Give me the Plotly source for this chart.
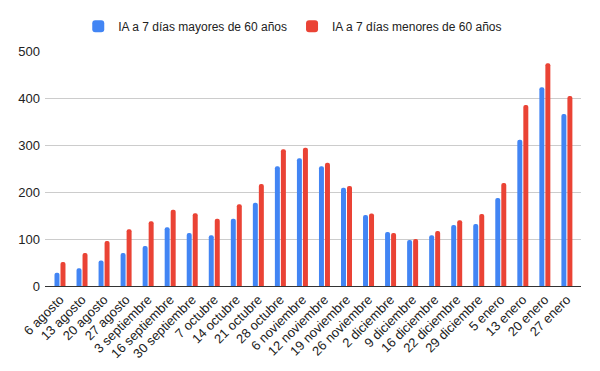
import plotly.graph_objects as go

categories = ["6 agosto", "13 agosto", "20 agosto", "27 agosto", "3 septiembre",
              "16 septiembre", "30 septiembre", "7 octubre", "14 octubre", "21 octubre",
              "28 octubre", "6 noviembre", "12 noviembre", "19 noviembre", "26 noviembre",
              "2 diciembre", "9 diciembre", "16 diciembre", "22 diciembre", "29 diciembre",
              "5 enero", "13 enero", "20 enero", "27 enero"]
mayores = [28, 38, 54, 70, 85, 125, 113, 108, 143, 177, 255, 272,
           255, 209, 151, 115, 98, 108, 130, 132, 187, 311, 423, 366]
menores = [51, 70, 96, 121, 138, 162, 155, 143, 174, 217, 291, 294,
           262, 213, 154, 113, 100, 117, 140, 153, 219, 385, 474, 404]
yticks = [0, 100, 200, 300, 400, 500]

fig = go.Figure()
fig.add_trace(go.Bar(x=categories, y=mayores, name="IA a 7 días mayores de 60 años",
                     marker=dict(color="#4285F4", cornerradius=3, line=dict(width=0))))
fig.add_trace(go.Bar(x=categories, y=menores, name="IA a 7 días menores de 60 años",
                     marker=dict(color="#EA4335", cornerradius=3, line=dict(width=0))))

# page body has an 8px margin: figure is drawn at (8, 8)
fig.update_layout(
    width=592, height=363,
    margin=dict(l=37, r=19, t=43, b=85, autoexpand=False),
    paper_bgcolor="white", plot_bgcolor="white",
    barmode="group", bargap=0.455, bargroupgap=0.17,
    font=dict(family="Liberation Sans, Arial, sans-serif", size=12, color="#222222"),
    legend=dict(orientation="h", x=0.481, xanchor="center", xref="container",
                y=0.95, yanchor="middle", yref="container",
                font=dict(size=12, color="#222222"), traceorder="normal"),
    showlegend=True,
)
fig.update_xaxes(tickangle=-45, showgrid=False, showline=True, linecolor="#333333",
                 linewidth=1, ticks="", automargin=False, range=[-0.68, 23.64],
                 tickfont=dict(size=13, color="#222222"))
fig.update_yaxes(range=[0, 500], tickvals=yticks, showgrid=True, gridcolor="#cccccc",
                 gridwidth=1, zeroline=False, showline=False, ticks="", automargin=False,
                 tickfont=dict(size=13, color="#222222"), ticklabelstandoff=4)

fig.write_html("out.html")
